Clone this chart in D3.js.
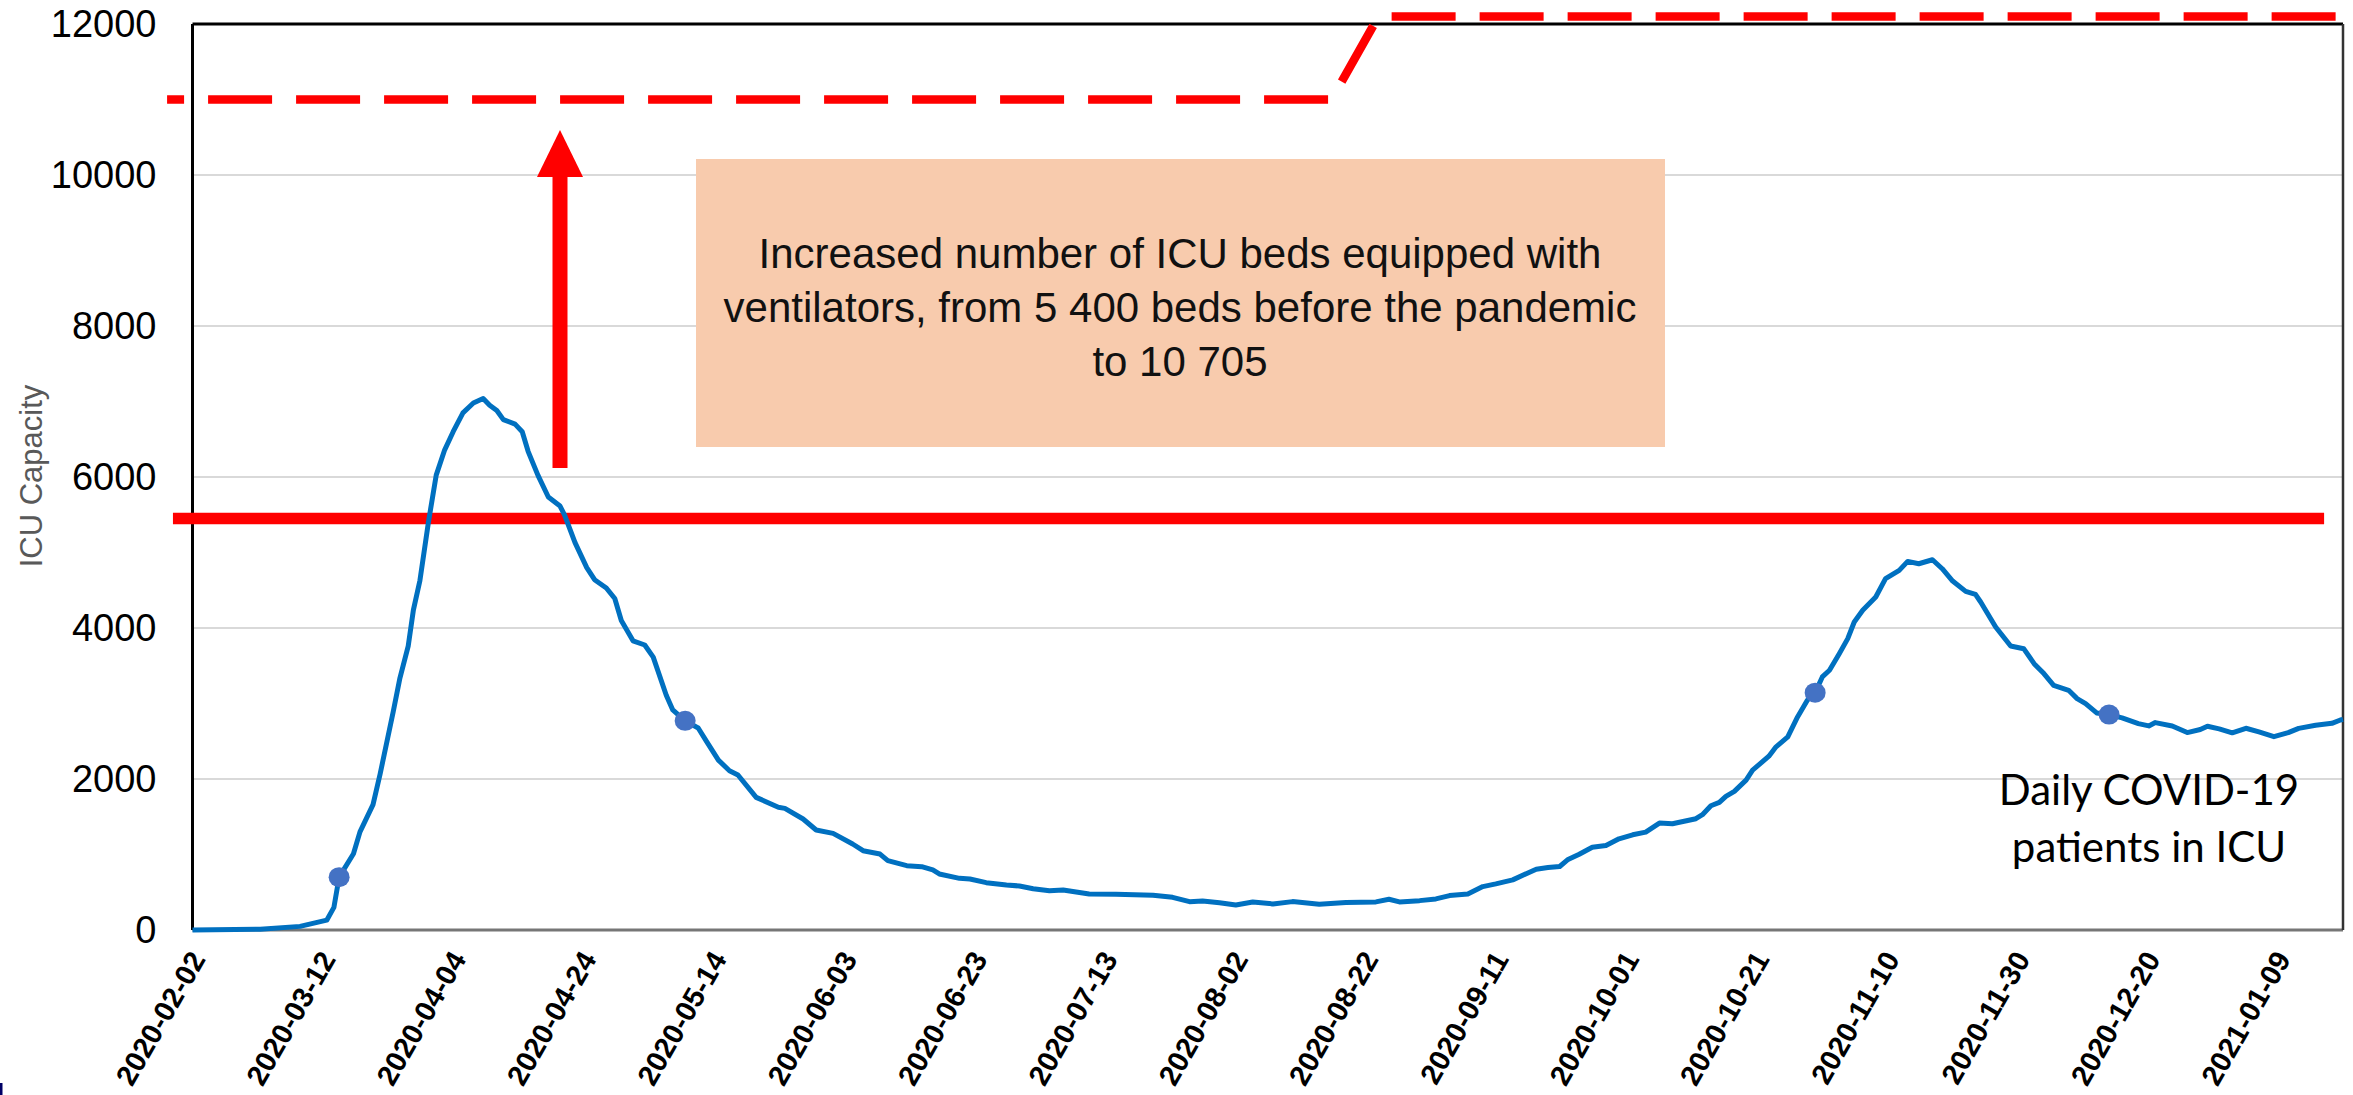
<!DOCTYPE html>
<html>
<head>
<meta charset="utf-8">
<script src="https://cdn.jsdelivr.net/npm/d3@7"></script>
<style>
  html, body { margin: 0; padding: 0; background: #fff; }
  svg { display: block; }
</style>
</head>
<body>
<svg id="chart" width="2353" height="1095"></svg>
<script>
// ---- data ----------------------------------------------------------------
// category positions (0 = 2020-02-02, one step per reported day)
const dayIdx = [
  0, 10.4, 16.5, 20.6, 21.7, 22.5, 24.7, 25.7, 27.7, 28.8, 30.8, 31.8, 33.1, 33.9, 34.9,
  36.2, 37.4, 38.7, 40.0, 41.5, 43.1, 44.6, 45.6, 46.7, 47.7, 49.5, 50.6, 51.5, 53.0,
  54.6, 56.4, 57.1, 58.7, 60.5, 61.7, 63.5, 64.8, 65.8, 67.6, 69.4, 70.7, 72.7, 73.7,
  75.6, 77.6, 78.9, 80.7, 82.4, 83.7, 86.5, 89.9, 90.9, 93.7, 95.7, 98.3, 101.3, 102.9,
  105.5, 106.7, 109.6, 111.9, 113.6, 114.6, 117.7, 119.3, 121.8, 124.9, 126.9, 129.0,
  131.5, 133.6, 135.6, 137.6, 141.7, 147.4, 150.4, 153.0, 155.0, 157.6, 160.1, 162.7,
  165.8, 168.8, 172.9, 177.0, 181.6, 183.6, 185.2, 188.3, 190.8, 192.9, 195.7, 198.0,
  200.0, 202.6, 206.2, 208.0, 209.8, 211.0, 212.8, 214.8, 216.9, 218.9, 221.0, 223.0,
  225.1, 227.1, 230.7, 231.7, 233.0, 234.3, 235.3, 236.6, 238.4, 239.4, 241.9, 243.0,
  244.8, 246.3, 247.8, 249.0, 250.1, 251.2, 252.7, 254.0, 255.0, 256.3, 258.3, 259.8,
  261.9, 263.2, 264.9, 267.0, 268.5, 270.1, 272.1, 273.6, 274.4, 276.7, 279.0, 281.0,
  282.6, 284.1, 285.6, 287.9, 289.2, 290.5, 292.2, 294.1, 296.1, 298.6, 300.2, 301.2,
  303.8, 306.1, 308.1, 309.2, 311.0, 313.0, 315.1, 317.1, 319.4, 321.6, 323.2, 325.8,
  328.3, 329.6, 330
];
const icuPatients = [
  0, 10, 48, 130, 300, 700, 1010, 1300, 1660, 2070, 2890, 3325, 3760, 4240, 4630,
  5400, 6025, 6360, 6600, 6850, 6980, 7040, 6950, 6880, 6760, 6700, 6600, 6340, 6025,
  5735, 5615, 5495, 5130, 4800, 4640, 4530, 4390, 4100, 3830, 3775, 3615, 3110, 2915,
  2770, 2675, 2495, 2250, 2110, 2053, 1757, 1625, 1611, 1470, 1325, 1280, 1139, 1050,
  1006, 918, 852, 839, 795, 742, 684, 675, 627, 596, 583, 547,
  521, 530, 503, 477, 472, 459, 433, 375, 384, 362, 332, 372,
  345, 376, 341, 363, 372, 407, 372, 389, 412, 456, 478, 575,
  611, 664, 805, 827, 841, 929, 1004, 1097, 1120, 1208, 1261, 1297,
  1416, 1407, 1474, 1527, 1646, 1690, 1770, 1836, 1985, 2117, 2302, 2426,
  2558, 2822, 3043, 3144, 3352, 3440, 3660, 3859, 4079, 4234, 4410, 4653,
  4763, 4882, 4851, 4904, 4785, 4622, 4485, 4445, 4344, 4013, 3762, 3726,
  3528, 3396, 3241, 3175, 3065, 2999, 2875, 2853, 2809, 2734, 2703, 2747,
  2703, 2615, 2655, 2699, 2664, 2611, 2672, 2624, 2561, 2614, 2671, 2711,
  2737, 2781, 2790
];

// highlighted points on the series
const markerIdx = [22.5, 75.6, 249.0, 294.1];
const markerVal = [700, 2770, 3144, 2853];

// bed capacity lines
const capBeforeIdx = [-3.0, 327.1];
const capBeforeVal = [5450, 5450];
const capAfterIdx = [-3.9, 174.8, 182.0, 330];
const capAfterVal = [11000, 11000, 12100, 12100];

// axis ticks
const xTickIdx = [0, 20, 40, 60, 80, 100, 120, 140, 160, 180, 200, 220, 240, 260, 280, 300, 320];
const xTickLabels = [
  "2020-02-02", "2020-03-12", "2020-04-04", "2020-04-24", "2020-05-14", "2020-06-03",
  "2020-06-23", "2020-07-13", "2020-08-02", "2020-08-22", "2020-09-11", "2020-10-01",
  "2020-10-21", "2020-11-10", "2020-11-30", "2020-12-20", "2021-01-09"
];
const yTicks = [0, 2000, 4000, 6000, 8000, 10000, 12000];

const noteLines = [
  "Increased number of ICU beds equipped with",
  "ventilators, from 5 400 beds before the pandemic",
  "to 10 705"
];
const seriesLabel = ["Daily COVID-19", "patients in ICU"];

// ---- layout --------------------------------------------------------------
const svg = d3.select("#chart");
const W = 2353, H = 1095;
const plot = { left: 192.5, right: 2343, top: 24, bottom: 930 };

svg.append("rect").attr("width", W).attr("height", H).attr("fill", "#fff");

const x = d3.scaleLinear().domain([0, 330]).range([plot.left, plot.right]);
const y = d3.scaleLinear().domain([0, 12000]).range([plot.bottom, plot.top]);

// gridlines
svg.append("g")
  .selectAll("line")
  .data(yTicks.filter(d => d > 0 && d < 12000))
  .join("line")
  .attr("x1", plot.left).attr("x2", plot.right)
  .attr("y1", d => y(d)).attr("y2", d => y(d))
  .attr("stroke", "#d9d9d9").attr("stroke-width", 2);

// y axis labels
const yAxis = svg.append("g")
  .attr("transform", `translate(${plot.left},0)`)
  .call(d3.axisLeft(y).tickValues(yTicks).tickFormat(d3.format("d")).tickSize(0).tickPadding(36));
yAxis.select(".domain").remove();
yAxis.selectAll("text")
  .attr("font-family", "'Liberation Sans', Arial, sans-serif")
  .attr("font-size", 38)
  .attr("fill", "#000");

// x axis labels (rotated)
svg.append("g")
  .selectAll("text")
  .data(xTickIdx)
  .join("text")
  .attr("transform", d => `translate(${x(d) + 5},954) rotate(-60)`)
  .attr("text-anchor", "end")
  .attr("dy", "0.35em")
  .attr("font-family", "'Liberation Sans', Arial, sans-serif")
  .attr("font-weight", "bold")
  .attr("font-size", 29)
  .attr("fill", "#000")
  .text((d, i) => xTickLabels[i]);

// y axis title
svg.append("text")
  .attr("transform", "translate(42,476) rotate(-90)")
  .attr("text-anchor", "middle")
  .attr("font-family", "'Liberation Sans', Arial, sans-serif")
  .attr("font-size", 31)
  .attr("fill", "#595959")
  .text("ICU Capacity");

// plot frame
svg.append("line")
  .attr("x1", plot.left).attr("x2", plot.right)
  .attr("y1", plot.bottom).attr("y2", plot.bottom)
  .attr("stroke", "#767676").attr("stroke-width", 3);
svg.append("line")
  .attr("x1", plot.left).attr("x2", plot.right)
  .attr("y1", plot.top).attr("y2", plot.top)
  .attr("stroke", "#000").attr("stroke-width", 3);
svg.append("line")
  .attr("x1", plot.left).attr("x2", plot.left)
  .attr("y1", plot.top).attr("y2", plot.bottom)
  .attr("stroke", "#000").attr("stroke-width", 3);
svg.append("line")
  .attr("x1", plot.right).attr("x2", plot.right)
  .attr("y1", plot.top).attr("y2", plot.bottom)
  .attr("stroke", "#333").attr("stroke-width", 2.5);

// annotation box
svg.append("rect")
  .attr("x", 696).attr("y", 159).attr("width", 969).attr("height", 288)
  .attr("fill", "#f8cbad");
svg.append("g")
  .selectAll("text")
  .data(noteLines)
  .join("text")
  .attr("x", 1180)
  .attr("y", (d, i) => 253 + i * 54)
  .attr("dy", "0.35em")
  .attr("text-anchor", "middle")
  .attr("font-family", "'Liberation Sans', Arial, sans-serif")
  .attr("font-size", 42)
  .attr("fill", "#111")
  .text(d => d);

// capacity lines
const capLine = d3.line().x(d => x(d[0])).y(d => y(d[1]));
svg.append("path")
  .attr("d", capLine(capBeforeIdx.map((d, i) => [d, capBeforeVal[i]])))
  .attr("fill", "none").attr("stroke", "#ff0000").attr("stroke-width", 11.5);
svg.append("path")
  .attr("d", capLine(capAfterIdx.map((d, i) => [d, capAfterVal[i]])))
  .attr("fill", "none").attr("stroke", "#ff0000").attr("stroke-width", 8.5)
  .attr("stroke-dasharray", "64 24").attr("stroke-dashoffset", 47)
  .attr("stroke-linejoin", "miter");

// arrow
const ax = 560;
svg.append("rect")
  .attr("x", ax - 7.5).attr("y", 175).attr("width", 15).attr("height", 468 - 175)
  .attr("fill", "#ff0000");
svg.append("path")
  .attr("d", `M${ax - 23},177 L${ax + 23},177 L${ax},130 Z`)
  .attr("fill", "#ff0000");

// series line
const series = dayIdx.map((d, i) => [d, icuPatients[i]]);
svg.append("path")
  .attr("d", d3.line().x(d => x(d[0])).y(d => y(d[1]))(series))
  .attr("fill", "none")
  .attr("stroke", "#0070c0")
  .attr("stroke-width", 5)
  .attr("stroke-linejoin", "round");

svg.append("g")
  .selectAll("ellipse")
  .data(markerIdx)
  .join("ellipse")
  .attr("cx", d => x(d))
  .attr("cy", (d, i) => y(markerVal[i]))
  .attr("rx", 10.5).attr("ry", 10)
  .attr("fill", "#4472c4");

// series label
svg.append("g")
  .selectAll("text")
  .data(seriesLabel)
  .join("text")
  .attr("x", 2149)
  .attr("y", (d, i) => 805 + i * 57)
  .attr("text-anchor", "middle")
  .attr("font-family", "Lato, 'Open Sans', sans-serif")
  .attr("font-size", 42)
  .attr("fill", "#000")
  .text(d => d);

// small mark at bottom-left corner of the original image
svg.append("rect")
  .attr("x", 0).attr("y", 1083).attr("width", 2.5).attr("height", 12)
  .attr("fill", "#000066");
</script>
</body>
</html>
